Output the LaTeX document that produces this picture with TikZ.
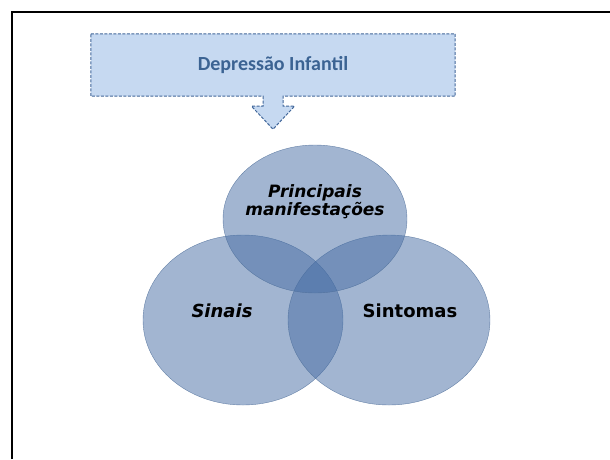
\documentclass[tikz,border=0pt]{standalone}
\usepackage{fontspec}
\setmainfont{Carlito}
\newfontfamily\vennfont{DejaVu Sans}
\usetikzlibrary{shapes.geometric,backgrounds}
\definecolor{faixa}{HTML}{C6D9F1}
\definecolor{faixaborda}{HTML}{41679A}
\definecolor{titulocor}{HTML}{3B6393}
\definecolor{bolha}{RGB}{70,108,164}
\definecolor{bolhaborda}{HTML}{4E6E99}

\begin{document}
\begin{tikzpicture}[x=1pt,y=-1pt,
    faixa/.style={draw=faixaborda,fill=faixa,line width=1pt,dash pattern=on 3pt off 1.5pt},
    bolha/.style={ellipse,fill=bolha,fill opacity=0.5,draw=bolhaborda,draw opacity=0.8,thin,inner sep=0pt},
    rotulo/.style={font=\vennfont\bfseries\fontsize{18}{18}\selectfont,text=black},
]
    \useasboundingbox (0,0) rectangle (610,459);
    \draw[line width=2pt] (11.5,459) -- (11.5,11.5) -- (610,11.5);
    % titulo com seta
    \node[minimum width=364pt,minimum height=62pt,inner sep=0pt,text=titulocor,
          font=\bfseries\fontsize{20}{20}\selectfont] (titulo) at (273,65) {Depressão Infantil};
    \begin{scope}[on background layer]
        \draw[faixa] (titulo.north west) -- (titulo.north east) -- (titulo.south east)
            -- ([xshift=10pt]titulo.south) -- ++(0,10) -- ++(11.5,0) -- ++(-21.5,23)
            -- ++(-21.5,-23) -- ++(11.5,0) -- ([xshift=-10pt]titulo.south)
            -- (titulo.south west) -- cycle;
    \end{scope}
    % diagrama
    \node[bolha,minimum width=200pt,minimum height=170pt] (sinais) at (243,320) {};
    \node[bolha,minimum width=202pt,minimum height=170pt] (sintomas) at (389,320) {};
    \node[bolha,minimum width=184pt,minimum height=148pt] (principais) at (315,219) {};
    \node[rotulo,font=\vennfont\bfseries\itshape\fontsize{17}{15.5}\selectfont,align=center]
        (txtprincipais) at (315,202) {Principais\\manifestações};
    \node[rotulo,font=\vennfont\bfseries\itshape\fontsize{18}{18}\selectfont] (txtsinais) at (222,311) {Sinais};
    \node[rotulo] (txtsintomas) at (410,311) {Sintomas};
\end{tikzpicture}
\end{document}
